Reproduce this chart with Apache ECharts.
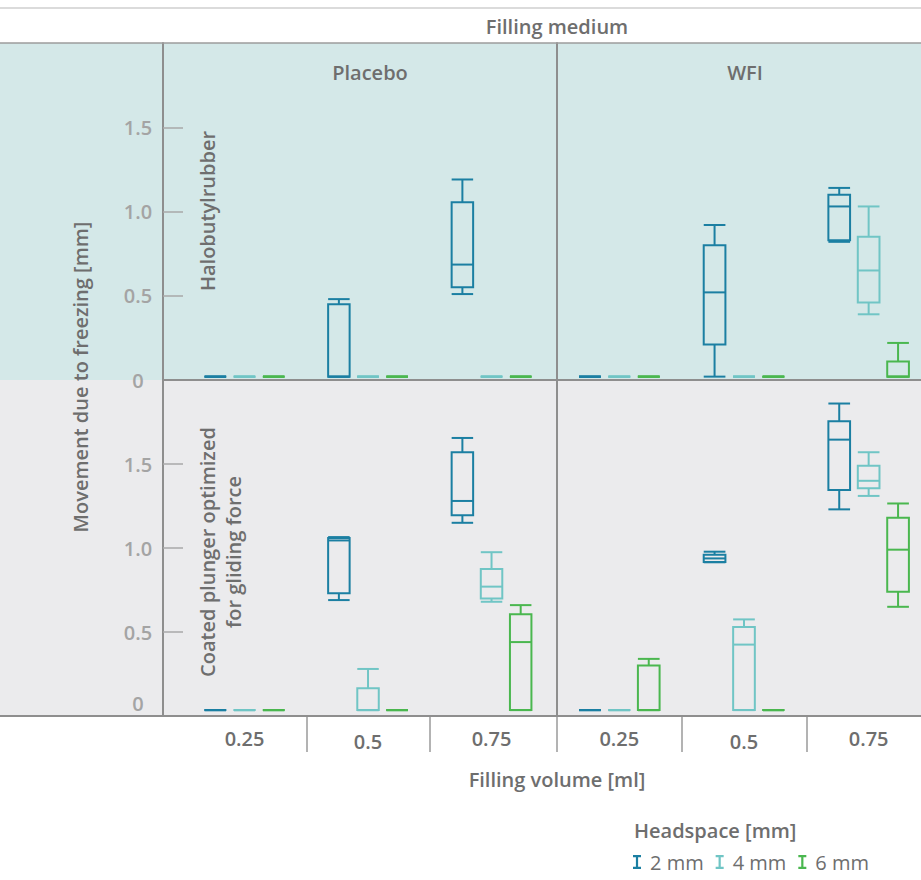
<!DOCTYPE html>
<html>
<head>
<meta charset="utf-8">
<script src="https://cdn.jsdelivr.net/npm/echarts@6/dist/echarts.min.js"></script>
<style>
  html, body { margin: 0; padding: 0; background: #ffffff; }
  #chart { width: 921px; height: 880px; }
</style>
</head>
<body>
<div id="chart"></div>
<script>
// Categories
const volumes = ['0.25', '0.5', '0.75'];
const media = ['Placebo', 'WFI'];
const plungers = ['Halobutylrubber', 'Coated plunger optimized\nfor gliding force'];
const headspaces = ['2 mm', '4 mm', '6 mm'];
const yTickValues = [0, 0.5, 1.0, 1.5];

// Box statistics per filling volume (0.25, 0.5, 0.75 ml): [min, Q1, median, Q3, max] in mm
const haloPlacebo2 = [[0.02, 0.02, 0.02, 0.02, 0.02], [0.02, 0.02, 0.02, 0.45, 0.48], [0.51, 0.55, 0.685, 1.055, 1.19]];
const haloPlacebo4 = [[0.02, 0.02, 0.02, 0.02, 0.02], [0.02, 0.02, 0.02, 0.02, 0.02], [0.02, 0.02, 0.02, 0.02, 0.02]];
const haloPlacebo6 = [[0.02, 0.02, 0.02, 0.02, 0.02], [0.02, 0.02, 0.02, 0.02, 0.02], [0.02, 0.02, 0.02, 0.02, 0.02]];
const haloWFI2 = [[0.02, 0.02, 0.02, 0.02, 0.02], [0.02, 0.21, 0.52, 0.80, 0.92], [0.82, 0.83, 1.03, 1.10, 1.14]];
const haloWFI4 = [[0.02, 0.02, 0.02, 0.02, 0.02], [0.02, 0.02, 0.02, 0.02, 0.02], [0.39, 0.46, 0.65, 0.85, 1.03]];
const haloWFI6 = [[0.02, 0.02, 0.02, 0.02, 0.02], [0.02, 0.02, 0.02, 0.02, 0.02], [0.02, 0.02, 0.02, 0.11, 0.22]];
const coatedPlacebo2 = [[0.035, 0.035, 0.035, 0.035, 0.035], [0.69, 0.73, 1.045, 1.06, 1.065], [1.15, 1.195, 1.28, 1.57, 1.655]];
const coatedPlacebo4 = [[0.035, 0.035, 0.035, 0.035, 0.035], [0.035, 0.035, 0.035, 0.165, 0.28], [0.68, 0.70, 0.77, 0.875, 0.975]];
const coatedPlacebo6 = [[0.035, 0.035, 0.035, 0.035, 0.035], [0.035, 0.035, 0.035, 0.035, 0.035], [0.035, 0.035, 0.44, 0.605, 0.66]];
const coatedWFI2 = [[0.035, 0.035, 0.035, 0.035, 0.035], [0.915, 0.917, 0.938, 0.96, 0.978], [1.23, 1.345, 1.645, 1.755, 1.86]];
const coatedWFI4 = [[0.035, 0.035, 0.035, 0.035, 0.035], [0.035, 0.035, 0.425, 0.53, 0.575], [1.31, 1.355, 1.40, 1.49, 1.57]];
const coatedWFI6 = [[0.035, 0.035, 0.035, 0.30, 0.34], [0.035, 0.035, 0.035, 0.035, 0.035], [0.65, 0.74, 0.99, 1.18, 1.265]];

// panel order: [plunger][medium][headspace]
const panels = [
  [[haloPlacebo2, haloPlacebo4, haloPlacebo6], [haloWFI2, haloWFI4, haloWFI6]],
  [[coatedPlacebo2, coatedPlacebo4, coatedPlacebo6], [coatedWFI2, coatedWFI4, coatedWFI6]]
];

// Styling / layout
const FONT = '"Open Sans", "Noto Sans", sans-serif';
const TEXT = '#6e6e6e';
const TICK_TEXT = '#a4a4a4';
const LINE = '#8e8e8e';
const colors = ['#1b7fa2', '#70c5c5', '#4ab74f'];
const bandColors = ['#d4e8e8', '#ebebed'];
const rowTop = [43, 380];
const rowHeight = [337, 336];
const colLeft = [163, 557];
const colWidth = [394, 364];
const xRange = [[-0.66, 2.53], [-0.5, 2.42]];
const hsOffset = [-0.236, 0, 0.236];   // headspace offset within a filling-volume group (axis units)
const boxHalf = 0.087;                 // half box width (axis units)

function boxRenderer(offset) {
  return function (params, api) {
    const x = api.value(0);
    const unit = api.size([1, 0])[0];
    const cx = api.coord([x, 0])[0] + offset * unit;
    const half = boxHalf * unit;
    const yAt = (i) => api.coord([x, api.value(i)])[1];
    const yMin = yAt(1), yQ1 = yAt(2), yMed = yAt(3), yQ3 = yAt(4), yMax = yAt(5);
    const style = { stroke: api.visual('color'), lineWidth: 2, fill: 'none' };
    return {
      type: 'group',
      children: [
        { type: 'line', shape: { x1: cx, y1: yQ3, x2: cx, y2: yMax }, style },
        { type: 'line', shape: { x1: cx, y1: yQ1, x2: cx, y2: yMin }, style },
        { type: 'line', shape: { x1: cx - half, y1: yMax, x2: cx + half, y2: yMax }, style },
        { type: 'line', shape: { x1: cx - half, y1: yMin, x2: cx + half, y2: yMin }, style },
        { type: 'rect', shape: { x: cx - half, y: yQ3, width: half * 2, height: yQ1 - yQ3 }, style },
        { type: 'line', shape: { x1: cx - half, y1: yMed, x2: cx + half, y2: yMed }, style }
      ]
    };
  };
}

const grid = [], xAxis = [], yAxis = [], series = [];
for (let r = 0; r < 2; r++) {
  for (let c = 0; c < 2; c++) {
    const gi = grid.length;
    grid.push({ left: colLeft[c], top: rowTop[r], width: colWidth[c], height: rowHeight[r] });
    const bottomRow = r === 1;
    xAxis.push({
      type: 'value', gridIndex: gi, min: xRange[c][0], max: xRange[c][1],
      splitLine: { show: false },
      axisLine: { show: true, onZero: false, lineStyle: { color: LINE, width: 2 } },
      axisTick: bottomRow ? {
        show: true, length: 36,
        customValues: c === 0 ? [0.5, 1.5] : [-0.5, 0.5, 1.5],
        lineStyle: { color: '#9a9a9a', width: 1.5 }
      } : { show: false },
      axisLabel: bottomRow ? {
        show: true, customValues: [0, 1, 2], margin: 10,
        formatter: (v) => (volumes[v] === '0.5' ? '{b|' : '{a|') + volumes[v] + '}',
        rich: {
          a: { fontFamily: FONT, fontSize: 20, fontWeight: 600, color: TEXT, lineHeight: 24 },
          b: { fontFamily: FONT, fontSize: 20, fontWeight: 600, color: TEXT, lineHeight: 30 }
        }
      } : { show: false }
    });
    yAxis.push({
      type: 'value', gridIndex: gi, min: 0, max: 2, interval: 0.5,
      splitLine: { show: false },
      axisLine: { show: true, onZero: false, lineStyle: { color: LINE, width: 2 } },
      axisTick: c === 0 ? {
        show: true, inside: true, length: 20, customValues: [0.5, 1, 1.5],
        lineStyle: { color: '#a8a8a8', width: 1.5 }
      } : { show: false },
      axisLabel: c === 0 ? {
        show: true, align: 'center', margin: 25,
        fontFamily: FONT, fontSize: 20, fontWeight: 600, color: TICK_TEXT, lineHeight: 26,
        formatter: (v) => {
          if (yTickValues.indexOf(v) < 0) return '';
          if (v === 0) return bottomRow ? '0\n ' : '0';
          return v.toFixed(1);
        }
      } : { show: false }
    });
    for (let h = 0; h < 3; h++) {
      series.push({
        type: 'custom',
        name: headspaces[h],
        xAxisIndex: gi, yAxisIndex: gi,
        itemStyle: { color: colors[h] },
        encode: { x: 0, y: [1, 2, 3, 4, 5] },
        renderItem: boxRenderer(hsOffset[h]),
        data: panels[r][c][h].map((d, i) => [i].concat(d)),
        z: 3
      });
    }
  }
}

const headerStyle = { fontFamily: FONT, fontSize: 20, fontWeight: 600, fill: TEXT, align: 'center', verticalAlign: 'middle' };

const option = {
  animation: false,
  backgroundColor: '#ffffff',
  grid, xAxis, yAxis, series,
  legend: {
    data: headspaces,
    left: 628, top: 847,
    icon: 'path://M0,0H8V2.2H5.1V11.8H8V14H0V11.8H2.9V2.2H0Z',
    itemWidth: 8, itemHeight: 14, itemGap: 12,
    textStyle: { fontFamily: FONT, fontSize: 20, color: TEXT, padding: [0, 0, 0, 4] }
  },
  graphic: [
    { type: 'rect', z: -100, shape: { x: 0, y: rowTop[0], width: 921, height: rowHeight[0] }, style: { fill: bandColors[0] } },
    { type: 'rect', z: -100, shape: { x: 0, y: rowTop[1], width: 921, height: rowHeight[1] }, style: { fill: bandColors[1] } },
    { type: 'line', z: 10, shape: { x1: 0, y1: 8, x2: 921, y2: 8 }, style: { stroke: '#cfcfcf', lineWidth: 1.5 } },
    { type: 'line', z: 10, shape: { x1: 0, y1: 43, x2: 921, y2: 43 }, style: { stroke: '#9c9c9c', lineWidth: 1.5 } },
    { type: 'line', z: 10, shape: { x1: 0, y1: 716, x2: 921, y2: 716 }, style: { stroke: LINE, lineWidth: 2 } },
    { type: 'text', x: 557, y: 26, style: Object.assign({ text: 'Filling medium' }, headerStyle) },
    { type: 'text', x: 370, y: 72, style: Object.assign({ text: media[0] }, headerStyle) },
    { type: 'text', x: 745, y: 72, style: Object.assign({ text: media[1] }, headerStyle) },
    { type: 'text', x: 557, y: 779, style: Object.assign({ text: 'Filling volume [ml]' }, headerStyle) },
    { type: 'text', x: 80, y: 377, rotation: Math.PI / 2, style: Object.assign({ text: 'Movement due to freezing [mm]' }, headerStyle) },
    { type: 'text', x: 207, y: 211, rotation: Math.PI / 2, style: Object.assign({ text: plungers[0] }, headerStyle) },
    { type: 'text', x: 220, y: 552, rotation: Math.PI / 2, style: Object.assign({ text: plungers[1], lineHeight: 26 }, headerStyle) },
    { type: 'text', x: 634, y: 830, style: Object.assign({}, headerStyle, { text: 'Headspace [mm]', align: 'left' }) }
  ]
};

const chart = echarts.init(document.getElementById('chart'), null, { renderer: 'svg' });
chart.setOption(option);
</script>
</body>
</html>
